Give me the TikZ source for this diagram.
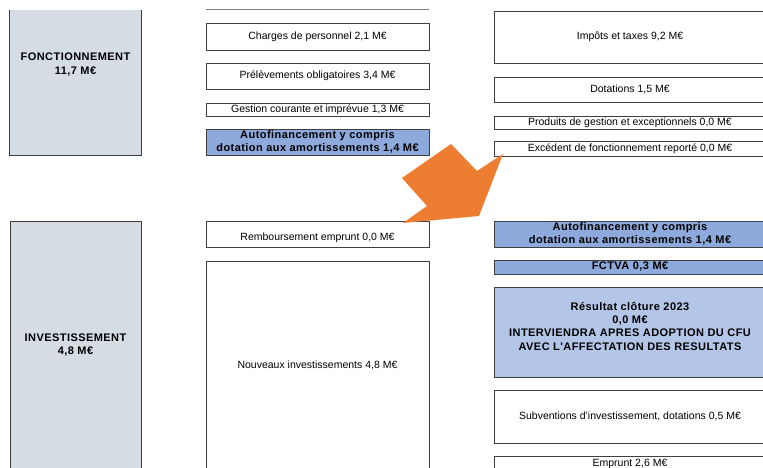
\documentclass[tikz,border=0pt]{standalone}
\usepackage{fontspec}
\setmainfont{Liberation Sans}
\newfontfamily\widebold[LetterSpace=4.0]{Liberation Sans}
\usepackage{tikz}
\usetikzlibrary{positioning}
\definecolor{boxline}{HTML}{3F3F3F}
\definecolor{sidefill}{HTML}{D6DCE4}
\definecolor{autofill}{HTML}{8EA9DB}
\definecolor{resfill}{HTML}{B4C6E7}
\definecolor{arroworange}{HTML}{ED7D31}

\begin{document}
\begin{tikzpicture}[x=1pt,y=-1pt,
  every node/.style={font=\fontsize{10.5}{13}\selectfont},
  box/.style={draw=boxline,line width=0.7pt,fill=white,inner sep=0pt,align=center},
  midbox/.style={box,minimum width=223pt},
  rightbox/.style={box,minimum width=272pt},
  sidebox/.style={box,fill=sidefill,minimum width=131pt},
  boldtxt/.style={font=\widebold\fontsize{11}{13.3}\selectfont\bfseries}]
\useasboundingbox (0,0) rectangle (763,468);
\clip (0,0) rectangle (763,468);

% fonctionnement
\node[sidebox,draw=none,minimum height=145pt,
  label={[anchor=north,yshift=-40pt,align=center,boldtxt]north:FONCTIONNEMENT\\11,7 M€}] (fonct) at (75.5,82.5) {};
\draw[boxline,line width=0.7pt] (fonct.north west) -- (fonct.south west) -- (fonct.south east) -- (fonct.north east);
\draw[gray,line width=1pt] (206,10) -- (429,10);
\node[midbox,minimum height=27pt] (charges) at (317.5,36.5) {Charges de personnel 2,1 M€};
\node[midbox,minimum height=26pt] (prelev) at (317.5,76) {Prélèvements obligatoires 3,4 M€};
\node[midbox,minimum height=13pt] (gestion) at (317.5,109.5) {Gestion courante et imprévue 1,3 M€};
\node[midbox,boldtxt,fill=autofill,minimum height=26pt] (autofonct) at (317.5,142) {Autofinancement y compris\\dotation aux amortissements 1,4 M€};
\node[rightbox,minimum height=52pt] (impots) at (630,37) {Impôts et taxes 9,2 M€};
\node[rightbox,minimum height=25pt] (dotations) at (630,89.5) {Dotations 1,5 M€};
\node[rightbox,minimum height=13pt] (produits) at (630,122.5) {Produits de gestion et exceptionnels 0,0 M€};
\node[rightbox,minimum height=15pt] (excedent) at (630,148.5) {Excédent de fonctionnement reporté 0,0 M€};

% investissement
\node[sidebox,minimum height=248pt,boldtxt] (invest) at (75.5,345) {INVESTISSEMENT\\4,8 M€};
\node[midbox,minimum height=26pt,
  label={[anchor=south,yshift=1pt]south:Remboursement emprunt 0,0 M€}] (rembours) at (317.5,234) {};
\node[midbox,minimum height=208pt] (nouveaux) at (317.5,365) {Nouveaux investissements 4,8 M€};
\node[rightbox,boldtxt,fill=autofill,minimum height=26pt] (autoinv) at (630,234) {Autofinancement y compris\\dotation aux amortissements 1,4 M€};
\node[rightbox,boldtxt,fill=autofill,minimum height=14pt] (fctva) at (630,267) {FCTVA 0,3 M€};
\node[rightbox,fill=resfill,minimum height=90pt,
  label={[yshift=6pt,align=center,boldtxt]center:Résultat clôture 2023\\0,0 M€\\INTERVIENDRA APRES ADOPTION DU CFU\\AVEC L'AFFECTATION DES RESULTATS}] (resultat) at (630,332) {};
\node[rightbox,minimum height=53pt] (subv) at (630,416.5) {Subventions d'investissement, dotations 0,5 M€};
\node[rightbox,minimum height=30pt,
  label={[anchor=north,yshift=0.5pt]north:Emprunt 2,6 M€}] (emprunt) at (630,471) {};

% big arrow
\fill[arroworange] (451,144) -- (477,171) -- (503,154) -- (479,216) -- (403,223) -- (427,206) -- (402,178) -- cycle;
\end{tikzpicture}
\end{document}
